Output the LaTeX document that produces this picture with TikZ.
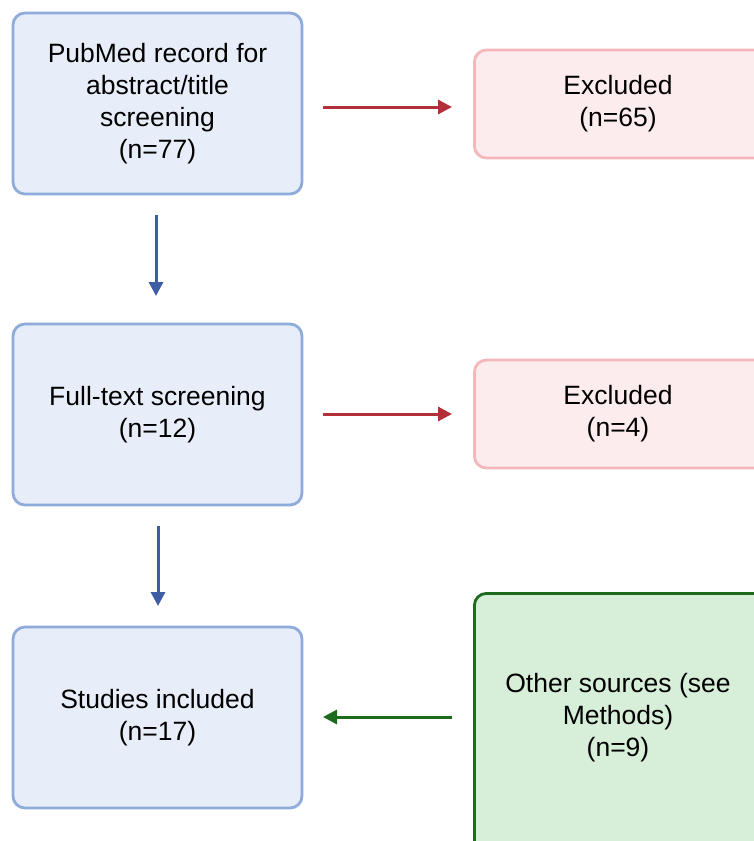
\documentclass[tikz,border=0pt]{standalone}
\usepackage{fontspec}
\setmainfont{Liberation Sans}
\usetikzlibrary{arrows.meta}
\definecolor{bfill}{HTML}{E8EEF9}
\definecolor{bdraw}{HTML}{8EABD9}
\definecolor{rfill}{HTML}{FDECEE}
\definecolor{rdraw}{HTML}{F4B8BC}
\definecolor{gfill}{HTML}{D7EFD8}
\definecolor{gdraw}{HTML}{1E6B1E}
\definecolor{barrow}{HTML}{3F5DA3}
\definecolor{rarrow}{HTML}{B3303A}
\definecolor{garrow}{HTML}{1C6A1C}
\tikzset{
  txt/.style={font=\fontsize{26.5}{32}\selectfont, align=center, inner sep=0pt},
  box/.style={rounded corners=12pt, line width=2.8pt, inner sep=0pt, align=center,
    font=\fontsize{26.5}{32}\selectfont},
  bluebox/.style={box, draw=bdraw, fill=bfill, minimum width=289pt, minimum height=181pt},
  redbox/.style={box, draw=rdraw, fill=rfill, minimum width=300pt, minimum height=108pt},
  greenbox/.style={box, draw=gdraw, fill=gfill, minimum width=300pt, minimum height=280pt},
  arr/.style={line width=3pt, -{Triangle[length=14pt,width=14pt]}},
}
\begin{document}
\begin{tikzpicture}[x=1pt,y=1pt]
\useasboundingbox (0,0) rectangle (754,-841);
\clip (0,0) rectangle (754,-841);
\fill[white] (0,0) rectangle (754,-841);
% blue boxes
\node[bluebox] (b1) at (157.5,-103.5) {PubMed record for\\abstract/title\\screening\\(n=77)};
\node[bluebox] (b2) at (157.5,-414.5) {Full-text screening\\(n=12)};
\node[bluebox] (b3) at (157.5,-717.5) {Studies included\\(n=17)};
% right boxes (extend beyond the right edge)
\node[redbox, anchor=west] (e1) at (473,-104) {};
\node[txt] (t1) at (618,-104) {Excluded\\(n=65)};
\node[redbox, anchor=west] (e2) at (473,-414) {};
\node[txt] (t2) at (618,-414) {Excluded\\(n=4)};
\node[greenbox, anchor=north west] (g) at (473,-592) {};
\node[txt] (t3) at (618,-718) {Other sources (see\\Methods)\\(n=9)};
% connectors
\coordinate (a1s) at (323,-107);
\coordinate (a1e) at (452,-107);
\draw[arr, rarrow] (a1s) -- (a1e);
\coordinate (a2s) at (323,-414);
\coordinate (a2e) at (452,-414);
\draw[arr, rarrow] (a2s) -- (a2e);
\coordinate (d1s) at (156,-215);
\coordinate (d1e) at (156,-296);
\draw[arr, barrow] (d1s) -- (d1e);
\coordinate (d2s) at (158,-526);
\coordinate (d2e) at (158,-606);
\draw[arr, barrow] (d2s) -- (d2e);
\coordinate (g1s) at (452,-717);
\coordinate (g1e) at (323,-717);
\draw[arr, garrow] (g1s) -- (g1e);
\end{tikzpicture}
\end{document}
